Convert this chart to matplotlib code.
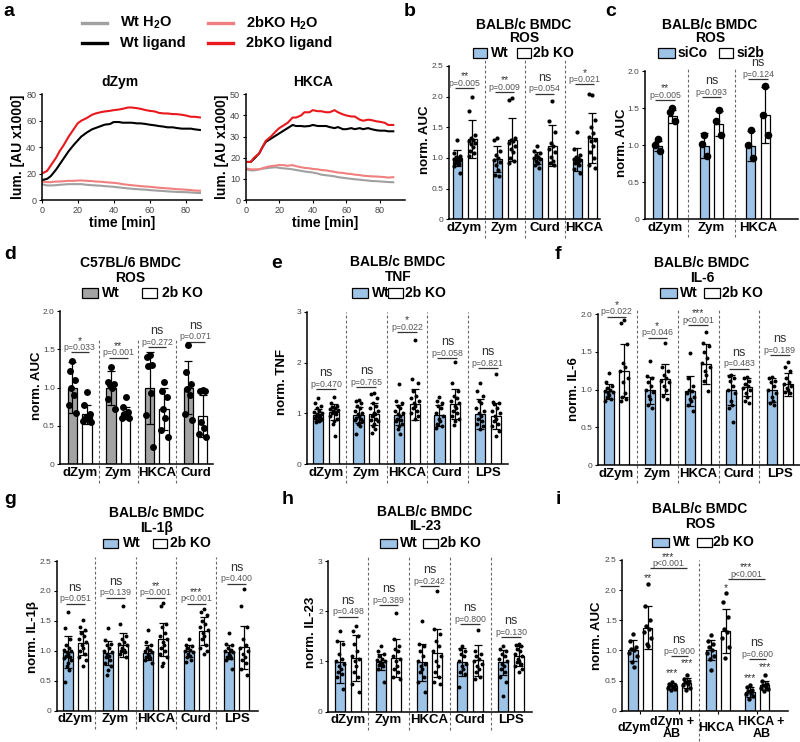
import matplotlib
matplotlib.use('Agg')
import matplotlib.pyplot as plt
from matplotlib.patches import Rectangle
from matplotlib.lines import Line2D
import matplotlib.transforms as mtrans
import numpy as np

plt.rcParams['font.family'] = ['Liberation Sans', 'DejaVu Sans']
plt.rcParams['mathtext.fontset'] = 'custom'
plt.rcParams['mathtext.rm'] = 'Liberation Sans:bold'
plt.rcParams['mathtext.bf'] = 'Liberation Sans:bold'

# ---------------- DATA ----------------
# panel a: kinetics
t_a = [0, 3, 5, 8, 10, 12, 15, 18, 20, 22, 25, 28, 30, 33, 35, 38, 40, 43, 45, 48,
       50, 53, 55, 58, 60, 63, 65, 68, 70, 73, 75, 78, 80, 83, 85, 88]
a1_ko_lig = [20, 22, 26, 32, 37, 41, 48, 54, 58, 60, 62, 64.5, 65.5, 66.5, 67, 67.5, 68, 68.5, 69, 70,
             70, 69.5, 69, 68, 67.5, 67, 66, 65.5, 65.5, 65, 65, 64.5, 64, 63, 63, 62.5]
a1_wt_lig = [15, 16, 18, 23, 27, 31, 37, 42, 45, 48, 51, 53.5, 54.5, 56, 57, 57.5, 59, 59, 58.5, 58.5,
             58.5, 58, 58, 57.5, 57, 56.5, 56, 55.5, 55, 55, 54.5, 54, 54, 54, 53.5, 53]
a1_ko_h2o = [14, 13.5, 13.5, 14, 14, 14.2, 14.5, 14.5, 14.7, 14.8, 14.5, 14.3, 14, 13.8, 13.5, 13.2, 13, 12.5, 12, 11.5,
             11.2, 10.8, 10.5, 10.2, 10, 9.6, 9.3, 9, 8.8, 8.5, 8.2, 8, 7.8, 7.5, 7.2, 7]
a1_wt_h2o = [12, 11, 11, 11.2, 11.5, 11.7, 12, 12, 12, 12, 11.5, 11.2, 11, 10.8, 10.5, 10.2, 10, 9.5, 9.2, 8.8,
             8.5, 8.2, 8, 7.8, 7.5, 7.2, 7, 6.8, 6.5, 6.3, 6.1, 6, 5.9, 5.7, 5.5, 5.3]
a2_ko_lig = [18, 18, 20, 22, 25, 28, 30, 32.5, 34, 35, 36.5, 39, 39, 40, 41.5, 41.5, 42.5, 42, 42, 41.5,
             41.5, 42.5, 41.5, 40.5, 40, 39.5, 39.5, 38, 37.5, 38, 37.8, 37.2, 37, 36.5, 35.5, 35.5]
a2_wt_lig = [18, 18, 19.5, 22, 25, 27.5, 29, 30.5, 31.5, 32.5, 34, 35.5, 35, 35, 34.8, 35, 35.5, 35, 35, 35,
             34.5, 34, 34.5, 33.5, 33.5, 34, 33.5, 34, 33.5, 34, 33.5, 33, 32.8, 32.8, 32.5, 32.5]
a2_ko_h2o = [15, 14.5, 14.5, 14.5, 15, 15.5, 16, 16.3, 16.5, 16.5, 16.2, 16.5, 16, 15.5, 15.2, 15, 14.7, 14.5, 14.2, 14,
             13.7, 13.3, 13, 12.8, 12.5, 12.3, 12, 11.8, 11.5, 11.3, 11.2, 11.1, 11, 10.8, 10.6, 10.8]
a2_wt_h2o = [14.5, 14, 14, 14.5, 14.8, 15, 15.3, 15.5, 15.2, 15, 14.8, 14.5, 14.2, 13.8, 13.5, 13.2, 13, 12.5, 12, 11.7,
             11.5, 11.2, 10.8, 10.5, 10.3, 10, 9.8, 9.6, 9.4, 9.2, 9, 8.9, 8.8, 8.6, 8.5, 8.4]

# panel b
b_cats = ['dZym', 'Zym', 'Curd', 'HKCA']
b_wt_mean = [1.0, 0.98, 1.0, 0.98]
b_wt_sd = [0.13, 0.21, 0.1, 0.19]
b_ko_mean = [1.31, 1.3, 1.2, 1.33]
b_ko_sd = [0.31, 0.35, 0.33, 0.41]
b_wt_pts = [[1.29, 1.08, 1.03, 1.01, 1.0, 0.99, 0.97, 0.96, 0.94, 0.92, 0.9, 0.87, 0.75],
            [1.32, 1.3, 1.12, 1.05, 1.0, 0.97, 0.93, 0.88, 0.8, 0.72, 0.7],
            [1.2, 1.12, 1.08, 1.05, 1.02, 1.0, 0.98, 0.95, 0.92, 0.88, 0.84],
            [1.43, 1.15, 1.05, 1.02, 1.0, 0.98, 0.97, 0.96, 0.94, 0.92, 0.88, 0.82, 0.76]]
b_ko_pts = [[2.0, 1.77, 1.38, 1.32, 1.3, 1.28, 1.25, 1.22, 1.18, 1.12, 1.08, 1.04],
            [1.97, 1.95, 1.32, 1.3, 1.28, 1.25, 1.2, 1.15, 1.1, 1.0, 0.95, 0.92],
            [1.93, 1.6, 1.42, 1.25, 1.2, 1.15, 1.1, 1.02, 0.95, 0.92, 0.88],
            [2.03, 2.05, 1.62, 1.5, 1.4, 1.35, 1.3, 1.28, 1.2, 1.1, 1.0, 0.88, 0.84]]
b_sig_y = [2.14, 2.07, 2.05, 2.2]
b_p = ['p=0.005', 'p=0.009', 'p=0.054', 'p=0.021']
b_mark = ['**', '**', 'ns', '*']

# panel c
c_cats = ['dZym', 'Zym', 'HKCA']
c_wt_mean = [0.99, 0.99, 0.99]
c_wt_sd = [0.07, 0.17, 0.2]
c_ko_mean = [1.39, 1.29, 1.41]
c_ko_sd = [0.09, 0.17, 0.38]
c_wt_pts = [[1.08, 1.0, 0.92], [1.14, 1.02, 0.85], [1.2, 1.0, 0.82]]
c_ko_pts = [[1.5, 1.45, 1.32], [1.47, 1.32, 1.14], [1.8, 1.4, 1.14]]
c_sig_y = [1.61, 1.65, 1.89]
c_p = ['p=0.005', 'p=0.093', 'p=0.124']
c_mark = ['**', 'ns', 'ns']

# panel d
d_cats = ['dZym', 'Zym', 'HKCA', 'Curd']
d_wt_mean = [1.0, 1.0, 1.0, 1.0]
d_wt_sd = [0.33, 0.22, 0.47, 0.35]
d_ko_mean = [0.65, 0.67, 0.72, 0.63]
d_ko_sd = [0.12, 0.08, 0.27, 0.27]
d_wt_pts = [[1.35, 1.22, 1.1, 1.0, 0.9, 0.78, 0.67],
            [1.27, 1.08, 1.05, 1.03, 1.0, 0.85, 0.72],
            [1.43, 1.4, 1.3, 1.28, 0.93, 0.64, 0.22],
            [1.55, 1.2, 1.05, 0.98, 0.9, 0.65, 0.58]]
d_ko_pts = [[0.94, 0.78, 0.65, 0.62, 0.6, 0.57, 0.55],
            [0.88, 0.75, 0.68, 0.65, 0.63, 0.6, 0.6],
            [1.07, 0.95, 0.88, 0.72, 0.6, 0.45, 0.36],
            [0.97, 0.96, 0.95, 0.55, 0.48, 0.4, 0.35]]
d_sig_y = [1.46, 1.39, 1.53, 1.6]
d_p = ['p=0.033', 'p=0.001', 'p=0.272', 'p=0.071']
d_mark = ['*', '**', 'ns', 'ns']

# panel e
e_cats = ['dZym', 'Zym', 'HKCA', 'Curd', 'LPS']
e_wt_mean = [0.97, 0.97, 0.97, 0.96, 0.99]
e_wt_sd = [0.12, 0.15, 0.2, 0.2, 0.3]
e_ko_mean = [1.03, 0.99, 1.18, 1.19, 0.95]
e_ko_sd = [0.15, 0.22, 0.3, 0.3, 0.25]
e_wt_pts = [[1.3, 1.2, 1.15, 1.1, 1.05, 1.02, 1.0, 0.98, 0.96, 0.95, 0.93, 0.92, 0.9, 0.88, 0.87, 0.85, 0.83],
            [1.27, 1.25, 1.2, 1.15, 1.1, 1.05, 1.0, 0.98, 0.95, 0.92, 0.9, 0.88, 0.85, 0.82, 0.8, 0.75, 0.6],
            [1.57, 1.25, 1.2, 1.15, 1.1, 1.05, 1.0, 0.98, 0.95, 0.9, 0.88, 0.85, 0.8, 0.75, 0.7, 0.6],
            [1.32, 1.25, 1.2, 1.15, 1.1, 1.0, 0.95, 0.9, 0.85, 0.8, 0.75, 0.72],
            [1.6, 1.45, 1.35, 1.25, 1.2, 1.1, 1.05, 1.0, 0.95, 0.9, 0.85, 0.8, 0.75, 0.7]]
e_ko_pts = [[1.32, 1.2, 1.15, 1.12, 1.1, 1.08, 1.06, 1.05, 1.03, 1.0, 0.98, 0.95, 0.9, 0.85, 0.8, 0.55],
            [1.4, 1.38, 1.3, 1.2, 1.15, 1.1, 1.05, 1.0, 0.98, 0.95, 0.9, 0.88, 0.85, 0.8, 0.75, 0.7, 0.62],
            [2.45, 1.67, 1.6, 1.45, 1.35, 1.3, 1.25, 1.2, 1.15, 1.1, 1.05, 1.0, 0.95, 0.9],
            [2.02, 1.6, 1.45, 1.35, 1.3, 1.25, 1.2, 1.15, 1.1, 1.05, 1.0, 0.95, 0.9, 0.85, 0.78],
            [1.77, 1.22, 1.2, 1.18, 1.1, 1.05, 1.0, 0.95, 0.9, 0.85, 0.8, 0.75, 0.65, 0.55]]
e_sig_y = [1.48, 1.52, 2.6, 2.09, 1.89]
e_p = ['p=0.470', 'p=0.765', 'p=0.022', 'p=0.058', 'p=0.821']
e_mark = ['ns', 'ns', '*', 'ns', 'ns']

# panel f
f_cats = ['dZym', 'Zym', 'HKCA', 'Curd', 'LPS']
f_wt_mean = [0.98, 0.99, 0.98, 0.99, 0.99]
f_wt_sd = [0.1, 0.18, 0.2, 0.2, 0.16]
f_ko_mean = [1.25, 1.14, 1.34, 1.03, 1.07]
f_ko_sd = [0.35, 0.2, 0.27, 0.12, 0.15]
f_wt_pts = [[1.22, 1.1, 1.05, 1.02, 1.0, 0.98, 0.97, 0.95, 0.93, 0.9, 0.88, 0.85],
            [1.38, 1.18, 1.15, 1.1, 1.05, 1.0, 0.97, 0.92, 0.87, 0.8, 0.75],
            [1.48, 1.15, 1.05, 1.0, 0.98, 0.95, 0.9, 0.88, 0.85, 0.8, 0.72],
            [1.2, 1.18, 1.15, 1.12, 1.05, 1.0, 0.95, 0.85, 0.8, 0.75, 0.57],
            [1.17, 1.15, 1.12, 1.1, 1.05, 1.0, 0.95, 0.9, 0.85, 0.82, 0.8]]
f_ko_pts = [[1.92, 1.88, 1.6, 1.35, 1.3, 1.25, 1.15, 1.1, 0.95, 0.9, 0.88, 0.85],
            [1.62, 1.3, 1.25, 1.2, 1.15, 1.12, 1.1, 1.05, 1.0, 0.92, 0.88],
            [1.76, 1.62, 1.58, 1.5, 1.42, 1.35, 1.3, 1.25, 1.2, 1.12, 0.98],
            [1.17, 1.15, 1.12, 1.08, 1.05, 1.02, 1.0, 0.95, 0.9, 0.85, 0.82],
            [1.37, 1.3, 1.25, 1.15, 1.1, 1.08, 1.05, 1.02, 1.0, 0.97, 0.95]]
f_sig_y = [1.97, 1.69, 1.86, 1.28, 1.46]
f_p = ['p=0.022', 'p=0.046', 'p<0.001', 'p=0.483', 'p=0.189']
f_mark = ['*', '*', '***', 'ns', 'ns']

# panel g
g_cats = ['dZym', 'Zym', 'HKCA', 'Curd', 'LPS']
g_wt_mean = [0.98, 0.97, 0.97, 0.99, 0.98]
g_wt_sd = [0.27, 0.2, 0.12, 0.1, 0.12]
g_ko_mean = [1.13, 1.1, 1.19, 1.33, 1.06]
g_ko_sd = [0.2, 0.2, 0.28, 0.23, 0.36]
g_wt_pts = [[1.64, 1.38, 1.2, 1.1, 1.05, 1.02, 1.0, 0.98, 0.95, 0.92, 0.9, 0.88, 0.85, 0.8, 0.75, 0.68, 0.48],
            [1.38, 1.18, 1.12, 1.1, 1.05, 1.0, 0.98, 0.95, 0.92, 0.9, 0.85, 0.8, 0.75, 0.68, 0.6],
            [1.35, 1.15, 1.1, 1.05, 1.02, 1.0, 0.98, 0.95, 0.92, 0.9, 0.88, 0.85, 0.8],
            [1.2, 1.1, 1.08, 1.05, 1.02, 1.0, 0.98, 0.95, 0.92, 0.9, 0.85, 0.82],
            [1.3, 1.12, 1.1, 1.05, 1.02, 1.0, 0.98, 0.95, 0.92, 0.9, 0.88, 0.85, 0.7]]
g_ko_pts = [[1.52, 1.4, 1.35, 1.3, 1.25, 1.2, 1.15, 1.1, 1.05, 1.0, 0.95, 0.9, 0.85, 0.75],
            [1.75, 1.45, 1.25, 1.2, 1.15, 1.12, 1.1, 1.05, 1.02, 1.0, 0.98, 0.95, 0.9],
            [1.8, 1.75, 1.45, 1.4, 1.3, 1.25, 1.2, 1.15, 1.1, 1.05, 1.0, 0.95, 0.9, 0.8, 0.75],
            [1.7, 1.65, 1.6, 1.5, 1.45, 1.4, 1.35, 1.3, 1.25, 1.2, 1.1, 1.05, 1.0, 0.95],
            [2.03, 1.75, 1.4, 1.2, 1.1, 1.05, 1.0, 0.95, 0.9, 0.85, 0.8, 0.7, 0.6]]
g_sig_y = [1.79, 1.89, 1.89, 1.79, 2.12]
g_p = ['p=0.051', 'p=0.139', 'p=0.001', 'p<0.001', 'p=0.400']
g_mark = ['ns', 'ns', '**', '***', 'ns']

# panel h
h_cats = ['dZym', 'Zym', 'HKCA', 'Curd', 'LPS']
h_wt_mean = [0.99, 0.99, 0.98, 0.99, 0.98]
h_wt_sd = [0.42, 0.15, 0.37, 0.27, 0.25]
h_ko_mean = [1.07, 1.07, 1.17, 1.02, 1.11]
h_ko_sd = [0.45, 0.37, 0.47, 0.3, 0.2]
h_wt_pts = [[1.6, 1.4, 1.35, 1.15, 1.05, 1.0, 0.95, 0.9, 0.85, 0.8, 0.75, 0.7, 0.45],
            [1.3, 1.2, 1.15, 1.1, 1.05, 1.02, 1.0, 0.98, 0.95, 0.92, 0.9, 0.85, 0.6],
            [1.8, 1.35, 1.3, 1.2, 1.1, 1.0, 0.95, 0.9, 0.85, 0.8, 0.7, 0.6, 0.4],
            [1.3, 1.25, 1.2, 1.15, 1.1, 1.0, 0.95, 0.9, 0.85, 0.8, 0.75, 0.5],
            [1.3, 1.25, 1.2, 1.15, 1.1, 1.05, 1.0, 0.95, 0.9, 0.85, 0.8, 0.7, 0.6, 0.32]]
h_ko_pts = [[1.7, 1.6, 1.5, 1.35, 1.2, 1.1, 1.05, 1.0, 0.9, 0.8, 0.7, 0.55, 0.4],
            [1.97, 1.45, 1.3, 1.25, 1.2, 1.1, 1.05, 1.0, 0.9, 0.85, 0.8, 0.7, 0.65],
            [2.4, 1.65, 1.55, 1.4, 1.3, 1.2, 1.1, 1.0, 0.9, 0.8, 0.7, 0.6, 0.55],
            [1.63, 1.2, 1.15, 1.1, 1.05, 1.0, 0.95, 0.9, 0.85, 0.8, 0.7, 0.65],
            [1.35, 1.32, 1.3, 1.25, 1.2, 1.15, 1.1, 1.05, 1.0, 0.98, 0.95, 0.9, 0.85, 0.8]]
h_sig_y = [1.89, 2.12, 2.5, 1.75, 1.49]
h_p = ['p=0.498', 'p=0.389', 'p=0.242', 'p=0.800', 'p=0.130']
h_mark = ['ns', 'ns', 'ns', 'ns', 'ns']

# panel i
i_cats = ['dZym', 'dZym +\nAB', 'HKCA', 'HKCA +\nAB']
i_wt_mean = [1.0, 0.41, 1.01, 0.31]
i_wt_sd = [0.17, 0.05, 0.17, 0.08]
i_ko_mean = [1.38, 0.46, 1.32, 0.42]
i_ko_sd = [0.35, 0.08, 0.37, 0.07]
i_wt_pts = [[1.28, 1.15, 1.05, 1.02, 1.0, 0.95, 0.9, 0.8, 0.72],
            [0.48, 0.45, 0.43, 0.42, 0.4, 0.38, 0.36, 0.34],
            [1.25, 1.15, 1.1, 1.05, 1.0, 0.95, 0.9, 0.85, 0.68],
            [0.43, 0.4, 0.35, 0.32, 0.3, 0.28, 0.25, 0.2]]
i_ko_pts = [[2.1, 1.73, 1.5, 1.4, 1.35, 1.3, 1.2, 1.1, 1.08],
            [0.6, 0.53, 0.5, 0.48, 0.45, 0.42, 0.38, 0.35],
            [1.95, 1.8, 1.55, 1.35, 1.3, 1.2, 1.05, 0.88],
            [0.6, 0.5, 0.45, 0.42, 0.4, 0.38, 0.36, 0.33]]
i_wt_star = ['', '***', '', '***']
i_wt_star_y = [0, 0.62, 0, 0.54]
i_ko_star = ['**', '***', '*', '***']
i_ko_star_y = [2.2, 0.79, 2.03, 0.73]

# ---------------- STYLE ----------------
BLUE = '#9DC3E6'
GRAY = '#A3A3A3'
W, H = 800, 742
fig = plt.figure(figsize=(W / 100, H / 100), dpi=100)
fig.patch.set_facecolor('white')

SPREAD = [0.0, -0.28, 0.28, -0.14, 0.14, -0.38, 0.38, -0.07, 0.07, -0.21, 0.21,
          -0.33, 0.33, 0.0, -0.1, 0.1, -0.25, 0.25, -0.4, 0.4]


def add_ax(l, t, r, b):
    return fig.add_axes([l / W, 1 - b / H, (r - l) / W, (b - t) / H])


def ftext(x, y, s, **kw):
    return fig.text(x / W, 1 - y / H, s, **kw)


def style(ax):
    for s in ['top', 'right']:
        ax.spines[s].set_visible(False)
    for s in ['left', 'bottom']:
        ax.spines[s].set_linewidth(1.1)
        ax.spines[s].set_color('black')
    ax.tick_params(axis='y', direction='out', length=2.5, width=0.8,
                   labelsize=6, labelcolor='#444', pad=1.5)
    ax.patch.set_alpha(0)


def legend_px(y, items):
    for (x0, x1, col, tx, txt) in items:
        fig.add_artist(Rectangle((x0 / W, 1 - (y + 4.5) / H), (x1 - x0) / W, 9 / H,
                                 transform=fig.transFigure, fc=col, ec='black', lw=0.9))
        ftext(tx, y, txt, ha='left', va='center', fontsize=10, fontweight='bold')


def title_px(cx, y1, y2, l1, l2):
    ftext(cx, y1, l1, ha='center', va='center', fontsize=10, fontweight='bold')
    ftext(cx, y2, l2, ha='center', va='center', fontsize=10, fontweight='bold')


def ylab(x, y, s):
    ftext(x, y, s, rotation=90, ha='center', va='center', fontsize=9.5, fontweight='bold')


def sig(ax, x1, x2, y, p, mark):
    ax.plot([x1, x2], [y, y], color='#333', lw=0.9, clip_on=False, solid_capstyle='butt')
    xm = (x1 + x2) / 2
    ax.annotate(p, (xm, y), xytext=(0, 0.2), textcoords='offset points', ha='center',
                va='bottom', fontsize=6.3, color='#555', annotation_clip=False)
    if mark == 'ns':
        ax.annotate('ns', (xm, y), xytext=(0, 11.5), textcoords='offset points', ha='center',
                    va='center', fontsize=9, color='#333', annotation_clip=False)
    elif mark:
        ax.annotate(mark, (xm, y), xytext=(0, 8.5), textcoords='offset points', ha='center',
                    va='center', fontsize=7.5, color='#333', annotation_clip=False)


def dashes(ax, xs, y0, y1):
    tr = mtrans.blended_transform_factory(ax.transData, ax.transAxes)
    for x in xs:
        ax.plot([x, x], [y0, y1], transform=tr, ls=(0, (2.5, 2)), color='#666', lw=0.8,
                clip_on=False)


def dots(ax, x, pts, w, s):
    xs = [x + SPREAD[i % len(SPREAD)] * w for i in range(len(pts))]
    ax.scatter(xs, pts, s=s, color='black', zorder=4, clip_on=False, linewidths=0)


def bar_panel(ax, cats, wm, ws, wp, km, ks, kp, off, width, xlim, ylim, yticks, ytl,
              wcol, s, sig_y, ps, marks, dash_rng, labels=True):
    style(ax)
    n = len(cats)
    xw = np.arange(n)
    xk = xw + off
    ax.bar(xw, wm, width=width, color=wcol, edgecolor='black', lw=0.9, zorder=2)
    ax.bar(xk, km, width=width, color='white', edgecolor='black', lw=0.9, zorder=2)
    ax.errorbar(xw, wm, yerr=ws, fmt='none', ecolor='black', elinewidth=0.9, capsize=2.8,
                capthick=0.9, zorder=3)
    ax.errorbar(xk, km, yerr=ks, fmt='none', ecolor='black', elinewidth=0.9, capsize=2.8,
                capthick=0.9, zorder=3)
    for k in range(n):
        dots(ax, xw[k], wp[k], width, s)
        dots(ax, xk[k], kp[k], width, s)
    ax.set_xlim(*xlim)
    ax.set_ylim(*ylim)
    ax.set_yticks(yticks)
    ax.set_yticklabels(ytl)
    ax.set_xticks(xw + off / 2)
    if labels:
        ax.set_xticklabels(cats, fontsize=9.5, fontweight='bold')
    else:
        ax.set_xticklabels([''] * n)
    ax.tick_params(axis='x', length=0, pad=2)
    if sig_y is not None:
        for k in range(n):
            sig(ax, xw[k] - 0.05, xk[k] + 0.05, sig_y[k], ps[k], marks[k])
    if dash_rng is not None:
        dashes(ax, [k + (off + 1) / 2 for k in range(n - 1)], dash_rng[0], dash_rng[1])


t25 = [0, 0.5, 1.0, 1.5, 2.0, 2.5]
l25 = ['0', '0.5', '1.0', '1.5', '2.0', '2.5']
t20 = [0, 0.5, 1.0, 1.5, 2.0]
l20 = ['0', '0.5', '1.0', '1.5', '2.0']
t3 = [0, 1, 2, 3]
l3 = ['0', '1', '2', '3']

# ---------------- PANEL a ----------------
def kin_ax(ax, ymax, yt):
    style(ax)
    ax.tick_params(axis='x', direction='out', length=2.5, width=0.8, labelsize=6.5,
                   labelcolor='#444', pad=1.5)
    ax.tick_params(axis='y', labelsize=6.5)
    ax.set_ylim(0, ymax)
    ax.set_yticks(yt)
    ax.set_xticks([0, 20, 40, 60, 80])
    ax.set_xlabel('time [min]', fontsize=10, fontweight='bold', labelpad=1)


a1 = add_ax(41.7, 94.3, 201.7, 200)
a1.plot(t_a, a1_wt_h2o, color='#A0A0A0', lw=1.5)
a1.plot(t_a, a1_ko_h2o, color='#F08080', lw=1.5)
a1.plot(t_a, a1_wt_lig, color='black', lw=1.5)
a1.plot(t_a, a1_ko_lig, color='#E8181C', lw=1.5)
a1.set_xlim(0, 89)
kin_ax(a1, 80, [0, 20, 40, 60, 80])
a2 = add_ax(245.7, 94.3, 405, 200)
a2.plot(t_a, a2_wt_h2o, color='#A0A0A0', lw=1.5)
a2.plot(t_a, a2_ko_h2o, color='#F08080', lw=1.5)
a2.plot(t_a, a2_wt_lig, color='black', lw=1.5)
a2.plot(t_a, a2_ko_lig, color='#E8181C', lw=1.5)
a2.set_xlim(0, 95)
kin_ax(a2, 50, [0, 10, 20, 30, 40, 50])
ftext(120, 82, 'dZym', ha='center', va='center', fontsize=10, fontweight='bold')
ftext(313, 82, 'HKCA', ha='center', va='center', fontsize=10, fontweight='bold')
ftext(18, 147, 'lum. [AU x1000]', rotation=90, ha='center', va='center', fontsize=10,
      fontweight='bold')
ftext(222, 147, 'lum. [AU x1000]', rotation=90, ha='center', va='center', fontsize=10,
      fontweight='bold')
for (x0, x1, y, col, txt) in [(82, 107, 23, '#A0A0A0', r'Wt H$_\mathbf{2}$O'),
                              (82, 107, 43, 'black', 'Wt ligand'),
                              (208, 233, 23, '#F08080', r'2bKO H$_\mathbf{2}$O'),
                              (208, 233, 43, '#E8181C', '2bKO ligand')]:
    fig.add_artist(Line2D([x0 / W, x1 / W], [1 - y / H, 1 - y / H], transform=fig.transFigure,
                          color=col, lw=2.4))
    ftext(x1 + 12.5, y, txt, ha='left', va='center', fontsize=10.5, fontweight='bold')

# ---------------- PANEL b ----------------
ab = add_ax(449, 66, 600, 219.3)
bar_panel(ab, b_cats, b_wt_mean, b_wt_sd, b_wt_pts, b_ko_mean, b_ko_sd, b_ko_pts,
          0.375, 0.225, (-0.2, 3.575), (0, 2.5), t25, l25, BLUE, 9,
          b_sig_y, b_p, b_mark, (-0.12, 1.04))
title_px(524, 25, 38, 'BALB/c BMDC', 'ROS')
legend_px(53, [(473, 487, BLUE, 491, 'Wt'), (517, 531, 'white', 533, '2b KO')])
ylab(425, 140, 'norm. AUC')

# ---------------- PANEL c ----------------
ac = add_ax(645, 71, 798, 219.3)
bar_panel(ac, c_cats, c_wt_mean, c_wt_sd, c_wt_pts, c_ko_mean, c_ko_sd, c_ko_pts,
          0.32, 0.195, (-0.27, 3.02), (0, 2.0), t20, l20, BLUE, 30,
          c_sig_y, c_p, c_mark, (-0.12, 1.03))
title_px(710, 25, 38, 'BALB/c BMDC', 'ROS')
legend_px(53, [(658, 675, BLUE, 678, 'siCo'), (719, 733, 'white', 737, 'si2b')])
ylab(622, 143, 'norm. AUC')

# ---------------- PANEL d ----------------
ad = add_ax(60.3, 311, 213, 464.3)
bar_panel(ad, d_cats, d_wt_mean, d_wt_sd, d_wt_pts, d_ko_mean, d_ko_sd, d_ko_pts,
          0.375, 0.245, (-0.316, 3.64), (0, 2.0), t20, l20, GRAY, 25,
          d_sig_y, d_p, d_mark, (-0.12, 0.82))
title_px(130, 263, 278, 'C57BL/6 BMDC', 'ROS')
legend_px(293, [(82, 98, GRAY, 102, 'Wt'), (142, 157, 'white', 162, '2b KO')])
ylab(37, 386, 'norm. AUC')

# ---------------- PANEL e ----------------
ae = add_ax(306.7, 311.7, 508.3, 464.3)
bar_panel(ae, e_cats, e_wt_mean, e_wt_sd, e_wt_pts, e_ko_mean, e_ko_sd, e_ko_pts,
          0.39, 0.25, (-0.28, 4.7), (0, 3), t3, l3, BLUE, 8,
          e_sig_y, e_p, e_mark, (-0.12, 1.0))
title_px(398, 262, 277, 'BALB/c BMDC', 'TNF')
legend_px(293, [(352, 368, BLUE, 372, 'Wt'), (388, 403, 'white', 405, '2b KO')])
ylab(282, 382, 'norm. TNF')

# ---------------- PANEL f ----------------
af = add_ax(597.7, 314.3, 800, 465)
bar_panel(af, f_cats, f_wt_mean, f_wt_sd, f_wt_pts, f_ko_mean, f_ko_sd, f_ko_pts,
          0.375, 0.245, (-0.27, 4.68), (0, 2.0), t20, l20, BLUE, 8,
          f_sig_y, f_p, f_mark, (-0.12, 1.04))
title_px(702, 263, 278, 'BALB/c BMDC', 'IL-6')
legend_px(293, [(660, 677, BLUE, 680, 'Wt'), (704, 720, 'white', 722, '2b KO')])
ylab(574, 389, 'norm. IL-6')

# ---------------- PANEL g ----------------
ag = add_ax(56.7, 561, 258.3, 710.7)
bar_panel(ag, g_cats, g_wt_mean, g_wt_sd, g_wt_pts, g_ko_mean, g_ko_sd, g_ko_pts,
          0.37, 0.245, (-0.27, 4.72), (0, 2.5), t25, l25, BLUE, 8,
          g_sig_y, g_p, g_mark, (-0.12, 1.03))
title_px(157, 513, 528, 'BALB/c BMDC', 'IL-1β')
legend_px(543, [(103, 118, BLUE, 123, 'Wt'), (153, 167, 'white', 170, '2b KO')])
ylab(33, 637, 'norm. IL-1β')

# ---------------- PANEL h ----------------
ah = add_ax(328.3, 561, 531.7, 711.7)
bar_panel(ah, h_cats, h_wt_mean, h_wt_sd, h_wt_pts, h_ko_mean, h_ko_sd, h_ko_pts,
          0.38, 0.245, (-0.29, 4.7), (0, 3), t3, l3, BLUE, 8,
          h_sig_y, h_p, h_mark, (-0.12, 1.03))
title_px(425, 512, 526, 'BALB/c BMDC', 'IL-23')
legend_px(543, [(380, 397, BLUE, 400, 'Wt'), (423, 438, 'white', 440, '2b KO')])
ylab(311, 632, 'norm. IL-23')

# ---------------- PANEL i ----------------
ai = add_ax(622.3, 560, 788.3, 710.7)
bar_panel(ai, i_cats, i_wt_mean, i_wt_sd, i_wt_pts, i_ko_mean, i_ko_sd, i_ko_pts,
          0.38, 0.25, (-0.27, 3.99), (0, 2.5), t25, l25, BLUE, 10,
          None, None, None, None, labels=False)
ai.tick_params(axis='x', length=2.5, width=0.8, direction='out')
dashes(ai, [1.69], -0.2, 1.0)
tri = mtrans.blended_transform_factory(ai.transData, ai.transAxes)
i_label_x = [0.04, 1.01, 2.14, 3.3]
for k, c in enumerate(i_cats):
    ai.text(i_label_x[k], -0.115, c, transform=tri, ha='center', va='center', fontsize=9,
            fontweight='bold', multialignment='center', linespacing=1.05)
for k in range(4):
    if i_wt_star[k]:
        ai.text(k, i_wt_star_y[k], i_wt_star[k], ha='center', va='center', fontsize=7.5,
                color='#333')
    if i_ko_star[k]:
        ai.text(k + 0.38, i_ko_star_y[k], i_ko_star[k], ha='center', va='center',
                fontsize=7.5, color='#333')
sig(ai, 0.44, 1.39, 2.36, 'p<0.001', '***')
sig(ai, 0.97, 1.41, 0.9, 'p=0.900', 'ns')
sig(ai, 2.44, 3.39, 2.18, 'p<0.001', '***')
sig(ai, 2.97, 3.41, 0.86, 'p=0.600', 'ns')
title_px(700, 509, 524, 'BALB/c BMDC', 'ROS')
legend_px(542, [(652, 669, BLUE, 673, 'Wt'), (697, 712, 'white', 713, '2b KO')])
ylab(597, 636, 'norm. AUC')

# ---------------- panel letters ----------------
for (x, y, l) in [(9, 12, 'a'), (410, 12, 'b'), (611, 12, 'c'), (10, 255, 'd'), (277, 263, 'e'),
                  (558, 255, 'f'), (10, 500, 'g'), (288, 500, 'h'), (558, 500, 'i')]:
    ftext(x, y, l, ha='center', va='center', fontsize=14, fontweight='bold')

fig.savefig('out.png', dpi=100)
